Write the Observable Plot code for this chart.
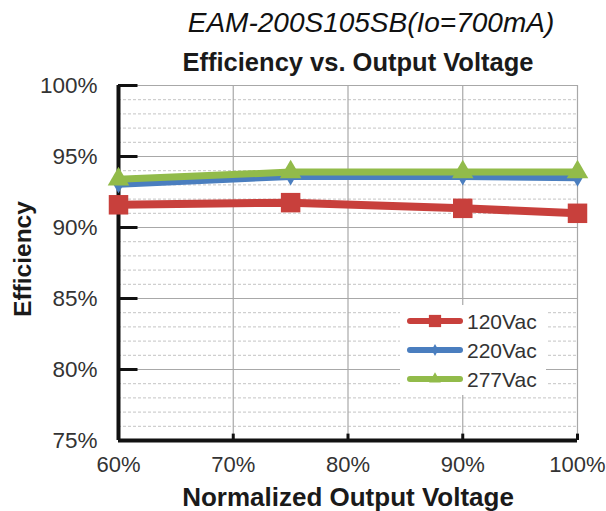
<!DOCTYPE html>
<html><head><meta charset="utf-8">
<script src="https://cdn.jsdelivr.net/npm/d3@7"></script>
<script src="https://cdn.jsdelivr.net/npm/@observablehq/plot@0.6"></script>
<style>
body{margin:0;background:#fff;font-family:"Liberation Sans",Arial,sans-serif}
#wrap{position:relative;width:606px;height:511px;overflow:hidden}
#legend{position:absolute;left:400px;top:305px;width:146px;height:90px;background:#fff}
#legend svg{position:absolute;left:0;top:0}
</style></head><body><div id="wrap"><div id="legend"></div></div>
<script>
const voltage = [0.60, 0.75, 0.90, 1.00];
const eff120 = [91.6, 91.75, 91.35, 91.0];
const eff220 = [93.05, 93.6, 93.6, 93.5];
const eff277 = [93.4, 93.9, 93.9, 93.9];
const seriesNames = ["120Vac", "220Vac", "277Vac"];
const seriesColors = ["#c8403c", "#4a7ebf", "#92bb4a"];
const seriesSymbols = ["square", "diamond", "triangle"];
const xTicks = [0.6, 0.7, 0.8, 0.9, 1.0];
const yTicks = [75, 80, 85, 90, 95, 100];
const yMinor = [76,77,78,79,81,82,83,84,86,87,88,89,91,92,93,94,96,97,98,99];
const title1 = "EAM-200S105SB(Io=700mA)";
const title2 = "Efficiency vs. Output Voltage";
const xLabel = "Normalized Output Voltage";
const yLabel = "Efficiency";

const seriesValues = [eff120, eff220, eff277];
const rows = seriesNames.map((s, k) => voltage.map((v, i) => ({v, e: seriesValues[k][i], s})));
const lineWidths = [8, 7, 7];
const dotR = [11, 5.5, 8];

const seriesMarks = [];
rows.forEach((r, k) => {
  seriesMarks.push(Plot.line(r, {x: "v", y: "e", stroke: seriesColors[k], strokeWidth: lineWidths[k], strokeLinecap: "round", strokeLinejoin: "round"}));
});
rows.forEach((r, k) => {
  seriesMarks.push(Plot.dot(r, {x: "v", y: "e", fill: seriesColors[k], stroke: "none", symbol: () => seriesSymbols[k], r: dotR[k]}));
});

const chart = Plot.plot({
  width: 606, height: 511,
  marginLeft: 118, marginRight: 29, marginTop: 85, marginBottom: 71,
  x: {domain: [0.6, 1.0]},
  y: {domain: [75, 100]},
  symbol: {domain: seriesSymbols, range: seriesSymbols},
  style: {fontFamily: "'Liberation Sans', Arial, sans-serif", background: "white", overflow: "visible"},
  marks: [
    Plot.ruleY(yMinor, {stroke: "#c4c4c4", strokeDasharray: "3,2", strokeWidth: 1}),
    Plot.ruleY(yTicks, {stroke: "#a8a8a8", strokeWidth: 1.2}),
    Plot.ruleX(xTicks.slice(1), {stroke: "#a8a8a8", strokeWidth: 1.2}),
    Plot.axisX(xTicks, {tickFormat: d => Math.round(d * 100) + "%", tickSize: 0, tickPadding: 16, fontSize: 22, fill: "#333", label: null}),
    Plot.axisY(yTicks, {tickFormat: d => d + "%", tickSize: 0, tickPadding: 21, fontSize: 22.5, fill: "#333", label: null}),
    Plot.ruleX(xTicks, {x: d => d, y1: 75, y2: 75.45, stroke: "#111", strokeWidth: 3}),
    Plot.ruleY(yTicks, {y: d => d, x1: 0.6, x2: 0.617, stroke: "#111", strokeWidth: 3}),
    Plot.ruleX([0.6], {stroke: "#111", strokeWidth: 4}),
    Plot.ruleY([75], {stroke: "#111", strokeWidth: 4}),
    ...seriesMarks,
    Plot.text([title1], {frameAnchor: "top", lineAnchor: "middle", dy: -62, dx: 23, fontSize: 28, fontStyle: "italic", fill: "#111", text: d => d}),
    Plot.text([title2], {frameAnchor: "top", lineAnchor: "middle", dy: -23, dx: 10, fontSize: 25.5, fontWeight: "bold", fill: "#1a1a1a", text: d => d}),
    Plot.text([xLabel], {frameAnchor: "bottom", lineAnchor: "middle", dy: 57, dx: 0, fontSize: 26, fontWeight: "bold", fill: "#1a1a1a", text: d => d}),
    Plot.text([yLabel], {frameAnchor: "left", textAnchor: "middle", lineAnchor: "middle", dx: -95, dy: -4, rotate: -90, fontSize: 24.5, fontWeight: "bold", fill: "#1a1a1a", text: d => d})
  ]
});
const wrap = document.getElementById("wrap");
wrap.insertBefore(chart, wrap.firstChild);

// legend
const leg = d3.select("#legend").append("svg").attr("width", 146).attr("height", 90);
seriesNames.forEach((name, k) => {
  const y = 16 + k * 29;
  const g = leg.append("g");
  g.append("line").attr("x1", 10).attr("x2", 60).attr("y1", y).attr("y2", y)
    .attr("stroke", seriesColors[k]).attr("stroke-width", 6).attr("stroke-linecap", "round");
  const sym = {square: d3.symbolSquare, diamond: d3.symbolDiamond, triangle: d3.symbolTriangle}[seriesSymbols[k]];
  const size = [150, 40, 60][k];
  g.append("path").attr("d", d3.symbol(sym, size)()).attr("transform", `translate(35,${y})`).attr("fill", seriesColors[k]);
  g.append("text").attr("x", 67).attr("y", y).attr("dy", "0.36em").attr("font-size", 21)
    .attr("fill", "#333").attr("font-family", "'Liberation Sans', Arial, sans-serif").text(name);
});
</script>
</body></html>
